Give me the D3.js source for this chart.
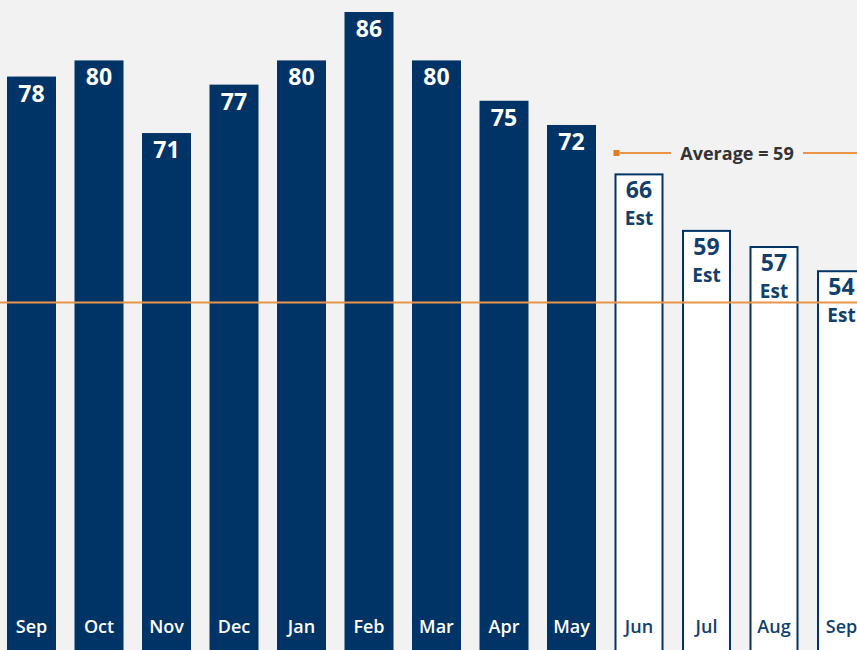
<!DOCTYPE html>
<html><head><meta charset="utf-8">
<script src="https://cdn.jsdelivr.net/npm/d3@7"></script>
<style>html,body{margin:0;padding:0;background:#f2f2f2;}svg{display:block;}</style>
</head><body>
<script>
const months = ["Sep","Oct","Nov","Dec","Jan","Feb","Mar","Apr","May","Jun","Jul","Aug","Sep"];
const values = [78,80,71,77,80,86,80,75,72,66,59,57,54];
const estimated = [false,false,false,false,false,false,false,false,false,true,true,true,true];
const averageValue = 59;
const averageLabelLevel = 68.5;
const referenceLine = 50;

const W = 857, H = 650;
const navy = "#003466";
const svg = d3.select("body").append("svg").attr("width", W).attr("height", H);
svg.append("rect").attr("width", W).attr("height", H).attr("fill", "#f2f2f2");

const x = d3.scaleBand().domain(d3.range(months.length)).range([7, 866]).paddingInner(0.274).paddingOuter(0);
const y = d3.scaleLinear().domain([0, 86]).range([706, 12]);

const data = months.map((m, i) => ({m, v: values[i], est: estimated[i], i}));

const g = svg.append("g");
g.selectAll("rect.bar").data(data).join("rect")
  .attr("class", "bar")
  .attr("x", d => d.est ? x(d.i) + 1 : x(d.i))
  .attr("width", d => d.est ? x.bandwidth() - 2 : x.bandwidth())
  .attr("y", d => d.est ? y(d.v) + 1 : y(d.v))
  .attr("height", d => H + 10 - y(d.v))
  .attr("fill", d => d.est ? "#ffffff" : navy)
  .attr("stroke", d => d.est ? navy : "none")
  .attr("stroke-width", 2);

// reference line
svg.append("line").attr("x1", 0).attr("x2", W).attr("y1", y(referenceLine)).attr("y2", y(referenceLine))
  .attr("stroke", "#e8954a").attr("stroke-width", 2);

const font = "'Open Sans', 'Noto Sans', sans-serif";

g.selectAll("text.val").data(data).join("text")
  .attr("class", "val")
  .attr("x", d => x(d.i) + x.bandwidth() / 2)
  .attr("y", d => y(d.v) + 25)
  .attr("text-anchor", "middle")
  .attr("font-family", font).attr("font-weight", 700).attr("font-size", 23)
  .attr("fill", d => d.est ? "#123f6b" : "#ffffff")
  .text(d => d.v);

g.selectAll("text.est").data(data.filter(d => d.est)).join("text")
  .attr("class", "est")
  .attr("x", d => x(d.i) + x.bandwidth() / 2)
  .attr("y", d => y(d.v) + 52)
  .attr("text-anchor", "middle")
  .attr("font-family", font).attr("font-weight", 700).attr("font-size", 19)
  .attr("fill", "#123f6b")
  .text("Est");

g.selectAll("text.mon").data(data).join("text")
  .attr("class", "mon")
  .attr("x", d => x(d.i) + x.bandwidth() / 2)
  .attr("y", 633)
  .attr("text-anchor", "middle")
  .attr("font-family", font).attr("font-weight", 600).attr("font-size", 18)
  .attr("fill", d => d.est ? "#123f6b" : "#ffffff")
  .text(d => d.m);

// average annotation
const ay = Math.round(y(averageLabelLevel));
const ax0 = x(9);
svg.append("rect").attr("x", ax0 - 1).attr("y", ay - 3).attr("width", 6).attr("height", 6).attr("fill", "#e07b20");
svg.append("line").attr("x1", ax0 + 5).attr("x2", 671).attr("y1", ay).attr("y2", ay).attr("stroke", "#e8954a").attr("stroke-width", 2);
svg.append("line").attr("x1", 803).attr("x2", W).attr("y1", ay).attr("y2", ay).attr("stroke", "#e8954a").attr("stroke-width", 2);
svg.append("text").attr("x", 737).attr("y", ay + 7).attr("text-anchor", "middle")
  .attr("font-family", font).attr("font-weight", 700).attr("font-size", 18).attr("fill", "#333333")
  .text("Average = " + averageValue);
</script>
</body></html>
